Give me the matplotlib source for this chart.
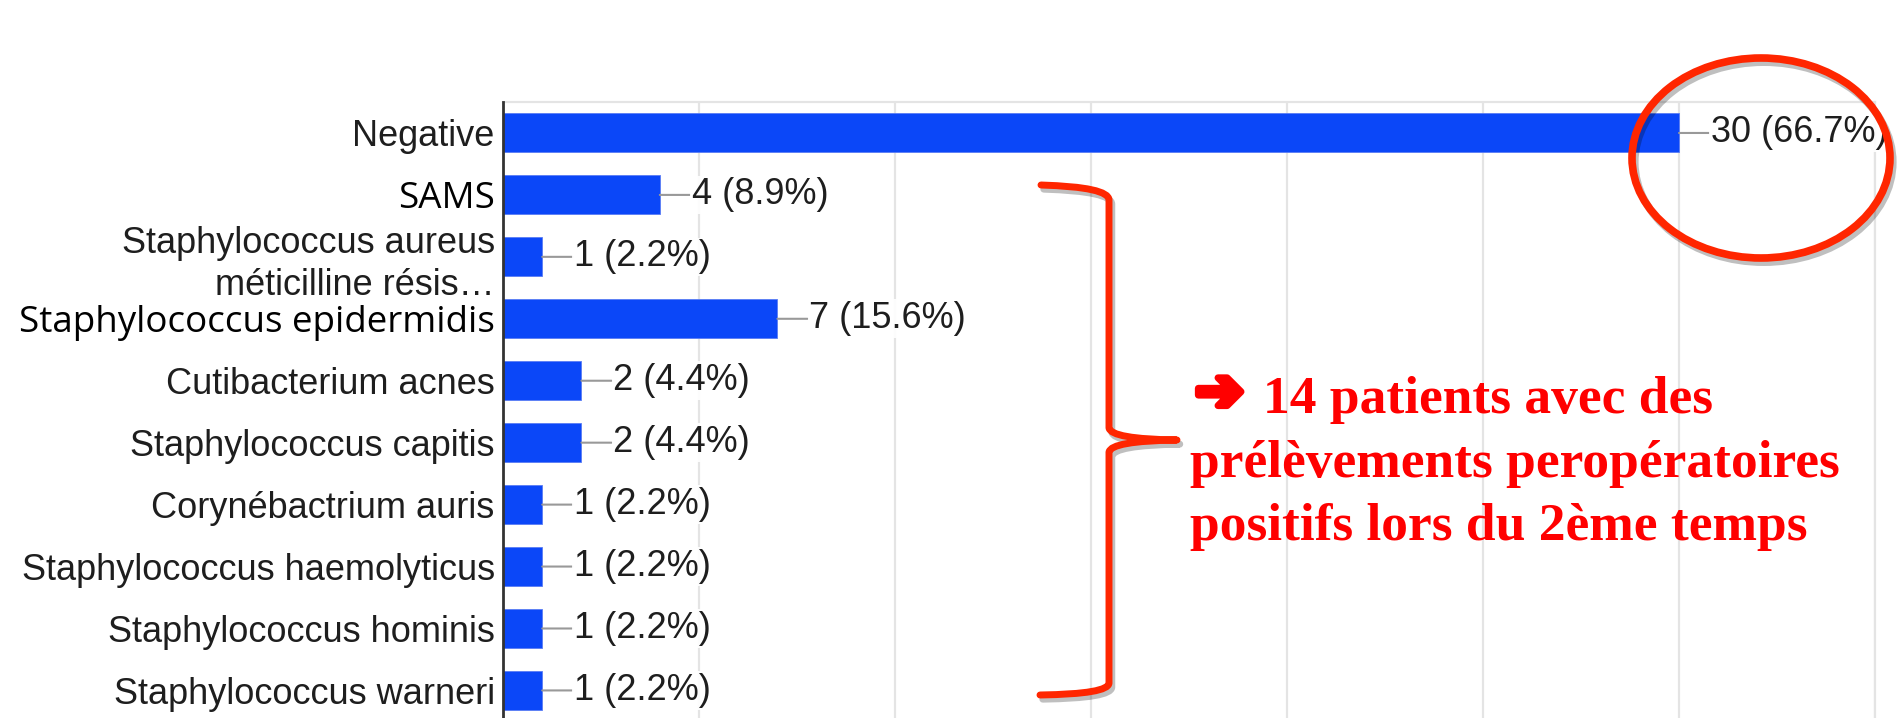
import matplotlib
matplotlib.use("Agg")
import matplotlib.pyplot as plt
import matplotlib.patheffects as pe
from matplotlib.patches import Ellipse, PathPatch
from matplotlib.path import Path

categories = [
    "Negative",
    "SAMS",
    "Staphylococcus aureus\nméticilline résis…",
    "Staphylococcus epidermidis",
    "Cutibacterium acnes",
    "Staphylococcus capitis",
    "Corynébactrium auris",
    "Staphylococcus haemolyticus",
    "Staphylococcus hominis",
    "Staphylococcus warneri",
]
counts = [30, 4, 1, 7, 2, 2, 1, 1, 1, 1]
percents = [66.7, 8.9, 2.2, 15.6, 4.4, 4.4, 2.2, 2.2, 2.2, 2.2]
# labels typed in another font on the slide
other_font = ["SAMS", "Staphylococcus epidermidis"]

note_arrow = "➔"
note_lines = ["14 patients avec des", "prélèvements peropératoires", "positifs lors du 2ème temps"]

W, H = 1899, 718
fig = plt.figure(figsize=(W / 100, H / 100), dpi=100)
ax = fig.add_axes([503 / W, 1 - 721.4 / H, (1875 - 503) / W, (721.4 - 102) / H])

ypos = list(range(len(categories)))
ax.barh(ypos, counts, height=0.63, color="#0b47f8", edgecolor="#5a7cf5", linewidth=0.6, zorder=3)
ax.set_xlim(0, 35)
ax.set_ylim(len(categories) - 0.5, -0.5)

ax.set_xticks(range(5, 36, 5))
ax.xaxis.grid(True, color="#e4e4e4", linewidth=1.6, zorder=0)
ax.tick_params(axis="x", length=0, labelbottom=False)
ax.tick_params(axis="y", length=0, pad=6)

ax.set_yticks(ypos)
ax.set_yticklabels(categories, fontsize=26, color="#1e1e1e", family="Liberation Sans")
for lab in ax.get_yticklabels():
    if lab.get_text() in other_font:
        lab.set_family("Open Sans")
        lab.set_color("black")
        lab.set_fontsize(26.5)
    if "\n" in lab.get_text():
        lab.set_linespacing(1.25)

ax.spines["bottom"].set_visible(False)
ax.spines["top"].set_color("#e4e4e4")
ax.spines["right"].set_color("#e4e4e4")
ax.spines["top"].set_linewidth(1.6)
ax.spines["right"].set_linewidth(1.6)
ax.spines["left"].set_color("#333333")
ax.spines["left"].set_linewidth(2)
ax.spines["left"].set_zorder(4)

for y, c, p in zip(ypos, counts, percents):
    ax.annotate(f"{c} ({p:.1f}%)", xy=(c, y), xytext=(23, 0), textcoords="offset points",
                va="center", ha="left", fontsize=26, color="#1e1e1e", family="Liberation Sans",
                arrowprops=dict(arrowstyle="-", color="#999999", lw=1.5, shrinkA=0, shrinkB=0),
                annotation_clip=False, zorder=5,
                bbox=dict(boxstyle="square,pad=0.05", fc="white", ec="none", alpha=0.9))

# red annotations drawn over the chart (pixel positions, y from top)
red = "#ff2600"
shadow = [pe.SimpleLineShadow(offset=(2, -3), shadow_color="black", alpha=0.25), pe.Normal()]


def fxy(x, y):
    return (x / W, 1 - y / H)


circle = Ellipse(fxy(1761, 158), 258 / W, 200 / H, transform=fig.transFigure,
                 fill=False, edgecolor=red, linewidth=5.5, zorder=10, path_effects=shadow)
fig.add_artist(circle)

pts = [(1041, 185), (1109, 187), (1109, 200),
       (1109, 428),
       (1111, 439), (1177, 440),
       (1111, 441), (1109, 452),
       (1109, 683),
       (1109, 694), (1040, 695)]
codes = [Path.MOVETO, Path.CURVE3, Path.CURVE3,
         Path.LINETO,
         Path.CURVE3, Path.CURVE3,
         Path.CURVE3, Path.CURVE3,
         Path.LINETO,
         Path.CURVE3, Path.CURVE3]
brace = PathPatch(Path([fxy(x, y) for x, y in pts], codes), transform=fig.transFigure,
                  fill=False, edgecolor=red, linewidth=5, capstyle="round", joinstyle="round",
                  zorder=10, path_effects=shadow)
fig.add_artist(brace)

# the slide's arrow is a heavy one, thicken the glyph with a stroke
fig.text(*fxy(1195, 410), note_arrow, ha="left", va="baseline", color="#ff0000",
         fontsize=42, fontweight="bold", family="DejaVu Sans", zorder=11,
         path_effects=[pe.withStroke(linewidth=5, foreground="#ff0000")])
line_x = [1263, 1190, 1190]
line_y = [413, 477, 540]
for txt, lx, ly in zip(note_lines, line_x, line_y):
    fig.text(*fxy(lx, ly), txt, ha="left", va="baseline", color="#ff0000",
             fontsize=38.5, fontweight="bold", family="Liberation Serif", zorder=11)

fig.savefig("out.png", dpi=100, facecolor="white")
